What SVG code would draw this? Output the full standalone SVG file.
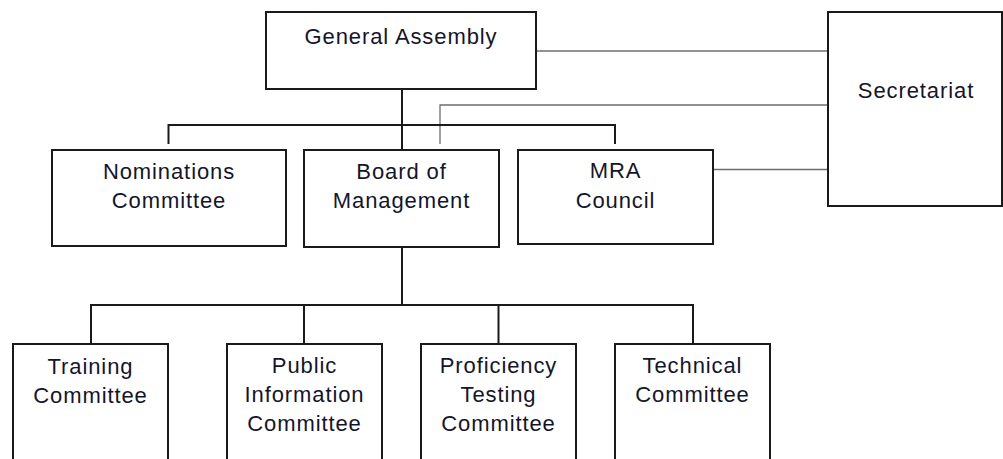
<svg xmlns="http://www.w3.org/2000/svg" width="1003" height="459" viewBox="0 0 1003 459">
<style>
.box{fill:#fff;stroke:#1a1a1a;stroke-width:2}
.lbl{font-family:"Liberation Sans",Arial,sans-serif;font-size:22px;letter-spacing:0.9px;fill:#15152a;text-anchor:middle}
.conn{fill:none;stroke:#1a1a1a;stroke-width:2}
.thin{fill:none;stroke:#6e6e6e;stroke-width:1.3}
</style>
<rect width="1003" height="459" fill="#fff"/>
<g id="connectors">
<path class="thin" d="M536 51H828"/>
<path class="thin" d="M828 105H440V144"/>
<path class="thin" d="M713 169.5H828"/>
<path class="conn" d="M402 89V150"/>
<path class="conn" d="M168.5 144V125H615V144"/>
<path class="conn" d="M402 247V305"/>
<path class="conn" d="M91 344V305H693V344"/>
<path class="conn" d="M304 305V344"/>
<path class="conn" d="M498.5 305V344"/>
</g>
<g id="general-assembly">
<rect class="box" x="266" y="12" width="270" height="77"/>
<text class="lbl" x="401" y="44">General Assembly</text>
</g>
<g id="secretariat">
<rect class="box" x="828" y="12" width="174" height="194"/>
<text class="lbl" x="916" y="98">Secretariat</text>
</g>
<g id="nominations-committee">
<rect class="box" x="52" y="150" width="234" height="96"/>
<text class="lbl" x="169" y="179">Nominations</text>
<text class="lbl" x="169" y="208">Committee</text>
</g>
<g id="board-of-management">
<rect class="box" x="304" y="150" width="195" height="97"/>
<text class="lbl" x="401.5" y="179">Board of</text>
<text class="lbl" x="401.5" y="208">Management</text>
</g>
<g id="mra-council">
<rect class="box" x="518" y="150" width="195" height="94"/>
<text class="lbl" x="615.5" y="178">MRA</text>
<text class="lbl" x="615.5" y="208">Council</text>
</g>
<g id="training-committee">
<rect class="box" x="13" y="344" width="155" height="140"/>
<text class="lbl" x="90.5" y="374">Training</text>
<text class="lbl" x="90.5" y="403">Committee</text>
</g>
<g id="public-information-committee">
<rect class="box" x="227" y="344" width="155" height="140"/>
<text class="lbl" x="304.5" y="373">Public</text>
<text class="lbl" x="304.5" y="402">Information</text>
<text class="lbl" x="304.5" y="431">Committee</text>
</g>
<g id="proficiency-testing-committee">
<rect class="box" x="421" y="344" width="155" height="140"/>
<text class="lbl" x="498.5" y="373">Proficiency</text>
<text class="lbl" x="498.5" y="402">Testing</text>
<text class="lbl" x="498.5" y="431">Committee</text>
</g>
<g id="technical-committee">
<rect class="box" x="615" y="344" width="155" height="140"/>
<text class="lbl" x="692.5" y="373">Technical</text>
<text class="lbl" x="692.5" y="402">Committee</text>
</g>
</svg>
